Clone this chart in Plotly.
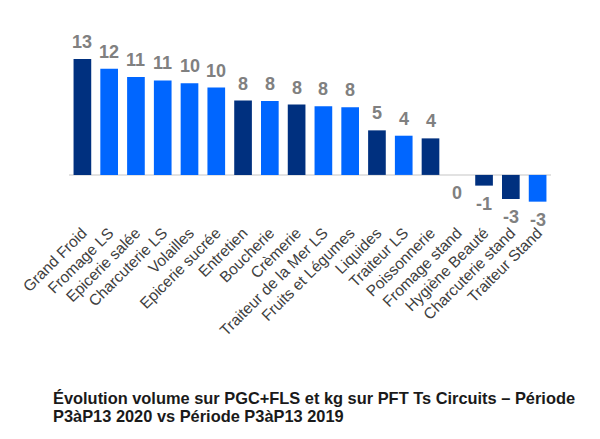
import plotly.graph_objects as go

# categories in chart order
categories = [
    "Grand Froid", "Fromage LS", "Epicerie salée", "Charcuterie LS", "Volailles",
    "Epicerie sucrée", "Entretien", "Boucherie", "Crèmerie", "Traiteur de la Mer LS",
    "Fruits et Légumes", "Liquides", "Traiteur LS", "Poissonnerie", "Fromage stand",
    "Hygiène Beauté", "Charcuterie stand", "Traiteur Stand",
]
# evolution values (%)
evolution = [13.0, 11.9, 11.0, 10.6, 10.3, 9.8, 8.35, 8.3, 7.9, 7.7, 7.6, 5.0, 4.4, 4.1,
             0.0, -1.2, -2.7, -3.0]
# which bars are drawn in the dark shade
dark_group = [True, False, False, False, False, False, True, False, True, False, False,
              True, False, True, False, True, True, False]

DARK = "#00307F"
BRIGHT = "#0066FF"
FONT = "Arial, Liberation Sans, sans-serif"

bar_colors = [DARK if d else BRIGHT for d in dark_group]
labels = [str(round(v)) for v in evolution]

fig = go.Figure()
fig.add_trace(go.Bar(
    x=categories,
    y=evolution,
    marker=dict(color=bar_colors, line=dict(width=0)),
    hoverinfo="x+y",
))

# value labels, pushed a bit away from the bar ends
for cat, val, lab in zip(categories, evolution, labels):
    fig.add_annotation(
        x=cat, y=val, text=f"<b>{lab}</b>", showarrow=False,
        yanchor="bottom" if val > 0 else "top",
        yshift=5 if val > 0 else -6,
        font=dict(family=FONT, size=18, color="#808080"),
    )

# title below the chart, two tight lines
fig.add_annotation(
    xref="paper", yref="paper", x=-0.037, y=-1.113, xanchor="left", yanchor="bottom",
    text="<b>Évolution volume sur PGC+FLS et kg sur PFT Ts Circuits – Période</b>",
    showarrow=False, font=dict(family=FONT, size=16.4, color="#1a1a1a"),
)
fig.add_annotation(
    xref="paper", yref="paper", x=-0.037, y=-1.213, xanchor="left", yanchor="bottom",
    text="<b>P3àP13 2020 vs Période P3àP13 2019</b>",
    showarrow=False, font=dict(family=FONT, size=16.4, color="#1a1a1a"),
)

fig.update_layout(
    width=600, height=439,
    margin=dict(l=55, r=57, t=27, b=235),
    paper_bgcolor="white", plot_bgcolor="white",
    bargap=0.34,
    showlegend=False,
    font=dict(family=FONT),
    xaxis=dict(
        tickangle=-45, showgrid=False, showline=False, ticks="",
        ticklabelstandoff=8,
        tickfont=dict(family=FONT, size=15.5, color="#404040"),
    ),
    yaxis=dict(
        range=[-4.16, 15.7], visible=False, showgrid=False,
        zeroline=True,
    ),
    shapes=[dict(type="line", xref="paper", yref="y", x0=0, x1=1, y0=0, y1=0,
                 line=dict(color="#D9D9D9", width=1.5), layer="below")],
)

fig.write_html("out.html")
